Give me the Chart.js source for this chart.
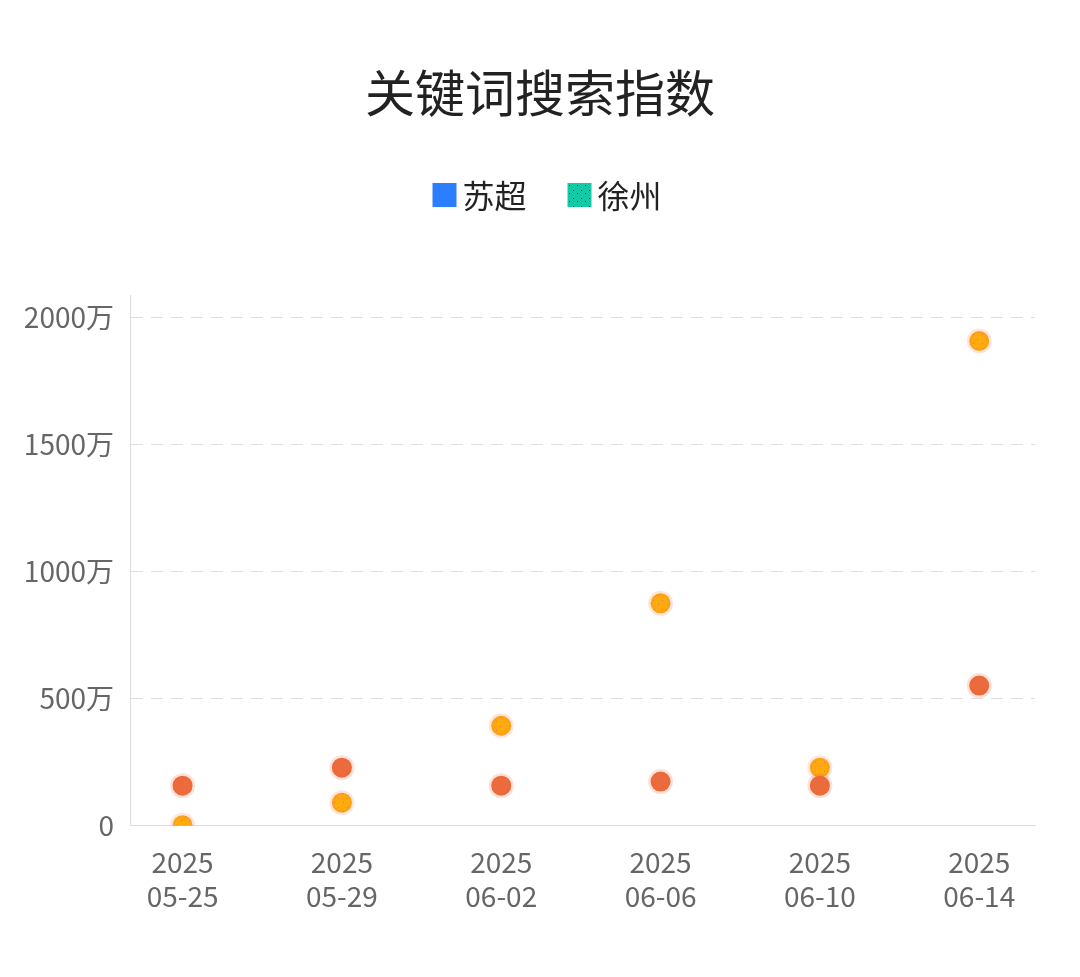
<!DOCTYPE html>
<html><head><meta charset="utf-8">
<script src="https://cdn.jsdelivr.net/npm/chart.js@4"></script>
<style>html,body{margin:0;padding:0;background:#fff;}#wrap{width:1080px;height:977px;}</style>
</head><body><div id="wrap"><canvas id="c" width="1080" height="977"></canvas></div>
<script>
const years = ['2025','2025','2025','2025','2025','2025'];
const dates = ['05-25','05-29','06-02','06-06','06-10','06-14'];
const suchao = [158, 229, 158, 174, 158, 552];
const xuzhou = [2, 91, 394, 876, 229, 1909];
const yTicks = [0, 500, 1000, 1500, 2000];
const seriesNames = ['苏超', '徐州'];
const legendColors = ['#2b7fff', '#14c9a6'];
const chartTitle = '关键词搜索指数';

const FONT = '"Noto Sans CJK SC","Noto Sans",sans-serif';
function pts(arr){ return arr.map((v,i)=>({x:i,y:v})); }

function dotPattern(bg, dot, size){
  const c = document.createElement('canvas');
  c.width = size; c.height = size;
  const g = c.getContext('2d');
  g.fillStyle = bg; g.fillRect(0,0,size,size);
  g.fillStyle = dot;
  g.fillRect(1,1,1,1);
  g.fillRect(Math.floor(size/2)+1, Math.floor(size/2)+2, 1, 1);
  return g.createPattern(c, 'repeat');
}
const tealPattern = dotPattern(legendColors[1], '#0a4a3c', 8);
const orangePattern = dotPattern('#ffab0d', '#f47a40', 9);

// custom title + legend drawn as text, centred on the page
const header = {
  id: 'header',
  afterDraw(chart){
    const ctx = chart.ctx;
    ctx.save();
    ctx.textBaseline = 'middle';
    ctx.textAlign = 'center';
    ctx.fillStyle = '#222';
    ctx.font = '50px ' + FONT;
    ctx.fillText(chartTitle, 540, 93);

    ctx.textAlign = 'left';
    ctx.font = '32px ' + FONT;
    const box = 24, gapText = 6, gapItem = 41;
    const widths = seriesNames.map(n => ctx.measureText(n).width);
    const total = widths.reduce((a,w)=>a+box+gapText+w,0) + gapItem*(seriesNames.length-1);
    let x = 547 - total/2;
    const cy = 195;
    seriesNames.forEach((n,i)=>{
      ctx.fillStyle = i===1 ? tealPattern : legendColors[i];
      ctx.fillRect(x, cy-box/2, box, box);
      x += box + gapText;
      ctx.fillStyle = '#222';
      ctx.fillText(n, x, cy+1);
      x += widths[i] + gapItem;
    });
    ctx.restore();
  }
};

new Chart(document.getElementById('c'), {
  type: 'scatter',
  plugins: [header],
  data: {
    datasets: [
      { label: seriesNames[0], data: pts(suchao), backgroundColor: '#ec6b3d', borderColor: 'rgba(236,107,61,0.2)', borderWidth: 5, pointRadius: 10, pointHoverRadius: 10 },
      { label: seriesNames[1], data: pts(xuzhou), backgroundColor: orangePattern, borderColor: 'rgba(240,130,80,0.2)', borderWidth: 5, pointRadius: 10, pointHoverRadius: 10 }
    ]
  },
  options: {
    responsive: false, animation: false,
    layout: { padding: { left: 10, right: 45, top: 295, bottom: 52 } },
    plugins: {
      tooltip: { enabled: false },
      legend: { display: false },
      title: { display: false }
    },
    scales: {
      x: {
        type: 'linear', min: -0.33, max: 5.35,
        afterBuildTicks: (ax) => { ax.ticks = dates.map((d,i)=>({value:i})); },
        ticks: { color: '#666', font: { family: FONT, size: 28 }, padding: 12, callback: (v) => [years[v], dates[v]], maxRotation: 0, autoSkip: false },
        grid: { display: false },
        border: { display: true, color: '#ddd' }
      },
      y: {
        min: 0, max: 2090,
        afterBuildTicks: (ax) => { ax.ticks = yTicks.map(v=>({value:v})); },
        afterFit: (ax) => { ax.width = 120; },
        ticks: { color: '#666', font: { family: FONT, size: 28 }, padding: 16, callback: (v) => v === 0 ? '0' : v + '万' },
        grid: { color: '#ddd', drawTicks: false },
        border: { display: true, color: '#ddd', dash: [12, 8] }
      }
    }
  }
});
</script>
</body></html>
